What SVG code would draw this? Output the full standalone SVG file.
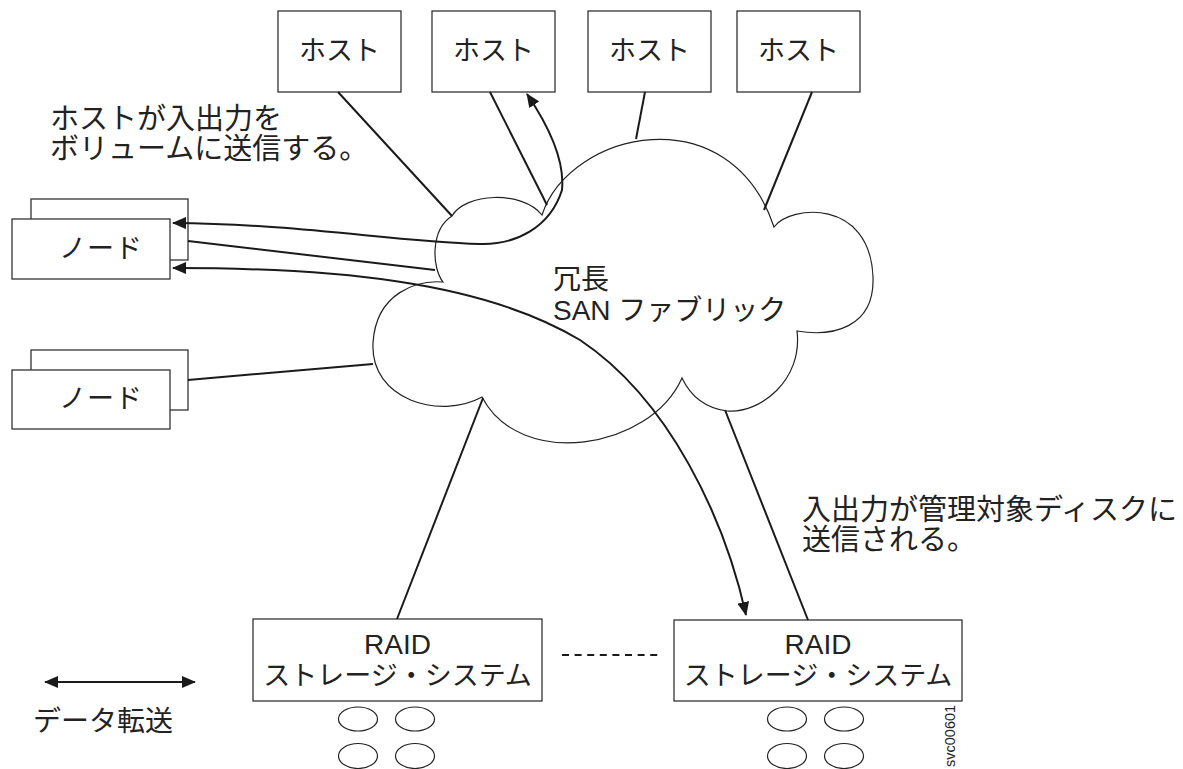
<svg xmlns="http://www.w3.org/2000/svg" width="1183" height="769" viewBox="0 0 1183 769">
<style>
.box{fill:#fff;stroke:#333;stroke-width:1.3}
.cloud{fill:#fff;stroke:#222;stroke-width:1.2}
.ln{fill:none;stroke:#1a1a1a;stroke-width:2}
.t{font-family:"Liberation Sans","Noto Sans CJK JP",sans-serif;fill:#222}
.disk{fill:#fff;stroke:#222;stroke-width:1.2}
</style>
<defs>
<marker id="ah" viewBox="0 0 14 12" refX="13" refY="6" markerWidth="14" markerHeight="12" markerUnits="userSpaceOnUse" orient="auto-start-reverse">
<path d="M0,0 L14,6 L0,12 Z" fill="#1a1a1a"/>
</marker>
</defs>
<rect width="1183" height="769" fill="#fff"/>

<g id="cloud">
<path class="cloud" d="M452,216 C465,193 522,190 542,215 C570,130 730,95 774,227 C790,205 870,198 873,277 C875,328 832,337 797,331 C803,380 760,414 727,411 C705,408 690,395 682,378 C650,450 520,470 482,397 C440,420 370,400 373,343 C376,292 418,280 443,282 C432,268 430,230 452,216 Z"/>
<text class="t" font-size="28" x="553" y="289">冗長</text>
<text class="t" font-size="28" x="553" y="320">SAN ファブリック</text>
</g>

<g id="host1"><rect class="box" x="278" y="11" width="123" height="81"/><text class="t" font-size="27" x="339.5" y="60" text-anchor="middle">ホスト</text></g>
<g id="host2"><rect class="box" x="432" y="11" width="123" height="81"/><text class="t" font-size="27" x="493.5" y="60" text-anchor="middle">ホスト</text></g>
<g id="host3"><rect class="box" x="588" y="11" width="123" height="81"/><text class="t" font-size="27" x="649.5" y="60" text-anchor="middle">ホスト</text></g>
<g id="host4"><rect class="box" x="737" y="11" width="123" height="81"/><text class="t" font-size="27" x="798.5" y="60" text-anchor="middle">ホスト</text></g>

<g id="node1">
<rect class="box" x="31" y="199" width="157" height="61"/>
<rect class="box" x="12" y="219" width="158" height="60"/>
<text class="t" font-size="27" x="101" y="258" text-anchor="middle" letter-spacing="1">ノード</text>
</g>
<g id="node2">
<rect class="box" x="31" y="350" width="157" height="60"/>
<rect class="box" x="12" y="370" width="158" height="59"/>
<text class="t" font-size="27" x="101" y="408" text-anchor="middle" letter-spacing="1">ノード</text>
</g>

<g id="raid1">
<rect class="box" x="253" y="619" width="289" height="82"/>
<text class="t" font-size="28" x="397.5" y="654" text-anchor="middle">RAID</text>
<text class="t" font-size="27" x="397.5" y="685" text-anchor="middle">ストレージ・システム</text>
<ellipse class="disk" cx="358" cy="719" rx="19.5" ry="12"/>
<ellipse class="disk" cx="415" cy="719" rx="19.5" ry="12"/>
<ellipse class="disk" cx="358" cy="756" rx="19.5" ry="12.5"/>
<ellipse class="disk" cx="415" cy="756" rx="19.5" ry="12.5"/>
</g>
<g id="raid2">
<rect class="box" x="674" y="620" width="288" height="81"/>
<text class="t" font-size="28" x="818" y="654" text-anchor="middle">RAID</text>
<text class="t" font-size="27" x="818" y="685" text-anchor="middle">ストレージ・システム</text>
<ellipse class="disk" cx="787" cy="719" rx="19.5" ry="12"/>
<ellipse class="disk" cx="844" cy="719" rx="19.5" ry="12"/>
<ellipse class="disk" cx="787" cy="756" rx="19.5" ry="12.5"/>
<ellipse class="disk" cx="844" cy="756" rx="19.5" ry="12.5"/>
</g>

<g id="connectors">
<line class="ln" x1="338" y1="92" x2="452" y2="216"/>
<line class="ln" x1="490" y1="92" x2="547" y2="205"/>
<line class="ln" x1="645" y1="92" x2="636" y2="139"/>
<line class="ln" x1="812" y1="92" x2="764" y2="210"/>
<line class="ln" x1="188" y1="241" x2="435" y2="270"/>
<line class="ln" x1="188" y1="380" x2="373" y2="364"/>
<line class="ln" x1="483" y1="398" x2="397" y2="619"/>
<line class="ln" x1="725" y1="410" x2="808" y2="620"/>
<path class="ln" d="M173,223 C300,224 390,241 480,244 C515,245 550,228 562,190 C565,160 548,125 527,94" marker-start="url(#ah)" marker-end="url(#ah)"/>
<path class="ln" d="M173,268 C330,268 480,280 580,340 C670,400 725,520 746,615" marker-start="url(#ah)" marker-end="url(#ah)"/>
<line class="ln" x1="562" y1="655" x2="658" y2="655" stroke-dasharray="7 5.6" stroke-width="2"/>
</g>

<g id="legend">
<line class="ln" x1="45" y1="682" x2="195" y2="682" marker-start="url(#ah)" marker-end="url(#ah)"/>
<text class="t" font-size="28" x="33" y="731">データ転送</text>
</g>

<g id="labels">
<text class="t" font-size="29" x="50" y="129">ホストが入出力を</text>
<text class="t" font-size="29" x="50" y="159">ボリュームに送信する。</text>
<text class="t" font-size="29" x="802" y="520">入出力が管理対象ディスクに</text>
<text class="t" font-size="29" x="802" y="550">送信される。</text>
<text class="t" font-size="14.5" transform="translate(955,767) rotate(-90)">svc00601</text>
</g>
</svg>
